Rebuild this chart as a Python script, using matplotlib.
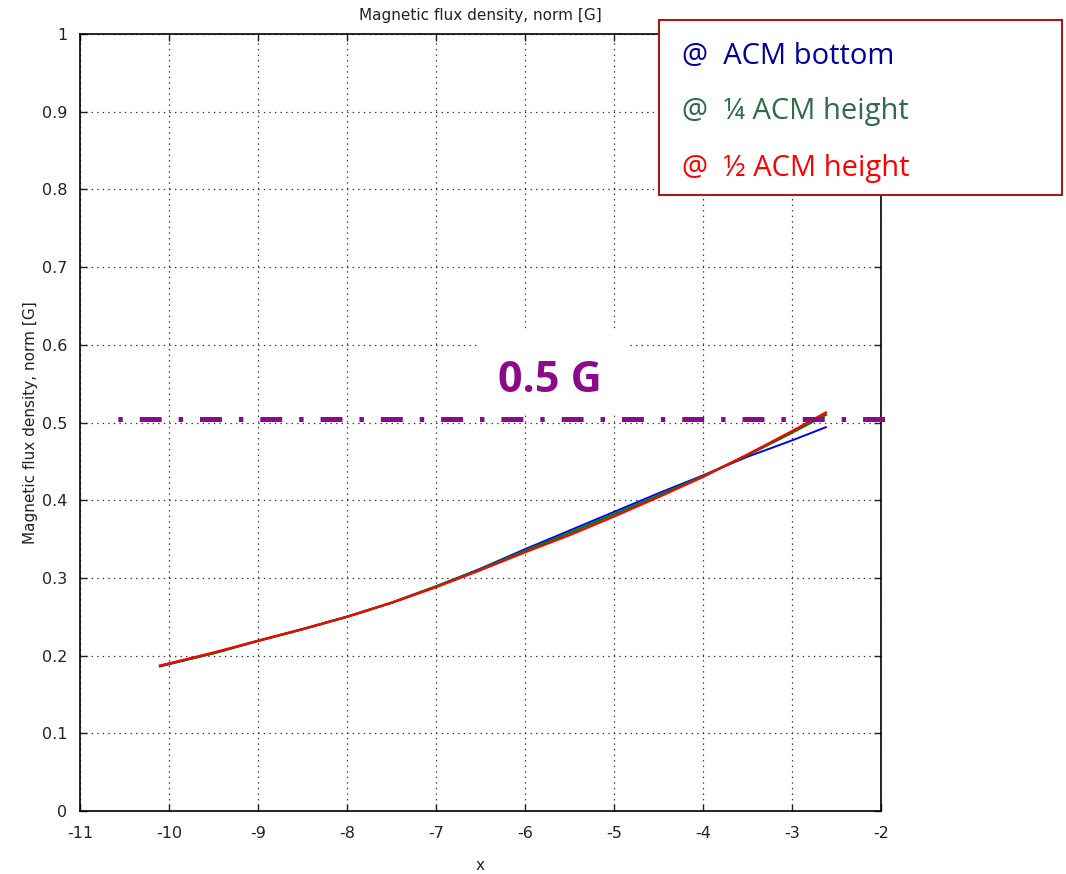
import matplotlib

matplotlib.use("Agg")
import matplotlib.pyplot as plt
import matplotlib.patheffects as pe
from matplotlib.patches import Rectangle
import numpy as np

# values
X = [-10.1, -9.5, -9.0, -8.5, -8.0, -7.5, -7.0, -6.5, -6.0, -5.5, -5.0, -4.5, -4.0, -3.5, -3.0, -2.62]
B_BOTTOM = [0.186, 0.203, 0.219, 0.234, 0.250, 0.268, 0.289, 0.312, 0.337, 0.361, 0.385, 0.409, 0.432, 0.456, 0.477, 0.494]
B_QUARTER = [0.187, 0.203, 0.219, 0.234, 0.250, 0.268, 0.289, 0.311, 0.335, 0.358, 0.382, 0.406, 0.431, 0.458, 0.487, 0.510]
B_HALF = [0.187, 0.204, 0.219, 0.234, 0.250, 0.268, 0.288, 0.310, 0.333, 0.355, 0.379, 0.404, 0.430, 0.459, 0.489, 0.513]
THRESHOLD = 0.504
THRESHOLD_LABEL = "0.5 G"
LEGEND_TEXTS = ["@  ACM bottom", "@  \u00bc ACM height", "@  \u00bd ACM height"]
LEGEND_COLORS = ["#00009E", "#2E6B48", "#FF0000"]
PURPLE = "#8B0A8B"

plt.rcParams["lines.scale_dashes"] = False
plt.rcParams["axes.unicode_minus"] = False

fig = plt.figure(figsize=(10.66, 8.74), dpi=100)
ax = fig.add_axes([0.075, 0.0721, 0.7515, 0.8889])

ax.plot(X, B_BOTTOM, color="#0000FF", lw=1.4, zorder=3)
ax.plot(X, B_QUARTER, color="#008000", lw=1.8, zorder=4)
ax.plot(X, B_HALF, color="#FF0000", lw=1.6, zorder=5)

ax.set_xlim(-11, -2)
ax.set_ylim(0, 1)
ax.set_xticks(np.arange(-11, -1, 1))
ax.set_yticks(np.arange(0, 1.01, 0.1))
ax.set_yticklabels(["0", "0.1", "0.2", "0.3", "0.4", "0.5", "0.6", "0.7", "0.8", "0.9", "1"])
ax.grid(True, linestyle=(0, (1, 3)), color="#333333", lw=0.9)
ax.tick_params(direction="in", length=5, width=1, top=True, right=True, labelsize=11.5, colors="#222222")
ax.tick_params(axis="x", pad=11)
ax.tick_params(axis="y", pad=9)
for s in ax.spines.values():
    s.set_linewidth(1.2)
ax.set_title("Magnetic flux density, norm [G]", fontsize=11, color="#222222", pad=10)
ax.set_xlabel("x", fontsize=11, color="#222222", labelpad=12)
ax.set_ylabel("Magnetic flux density, norm [G]", fontsize=11, color="#222222", labelpad=3)

# white text box hiding the grid behind the label
ax.add_patch(Rectangle((-6.54, 0.512), 1.69, 0.108, facecolor="white", edgecolor="none", zorder=2.5))
ax.text(-5.72, 0.554, THRESHOLD_LABEL, color=PURPLE, fontsize=31, fontweight="bold",
        family="Open Sans", ha="center", va="center", zorder=6)

ax.plot([-10.64, -1.865], [THRESHOLD, THRESHOLD], color=PURPLE, lw=3.6, clip_on=False,
        solid_capstyle="butt", dash_capstyle="butt",
        linestyle=(23.8, (15.8, 12.2, 3.2, 12.2)), zorder=7,
        path_effects=[pe.SimplePatchShadow(offset=(0, -3), shadow_rgbFace="#888888", alpha=0.5), pe.Normal()])

# legend box drawn as an overlay
fig.patches.append(Rectangle((0.618, 0.777), 0.378, 0.2, transform=fig.transFigure,
                             facecolor="white", edgecolor="#A01E16", lw=1.5, zorder=10))
for txt, col, yy in zip(LEGEND_TEXTS, LEGEND_COLORS, [0.935, 0.872, 0.807]):
    fig.text(0.640, yy, txt, color=col, fontsize=21, family="Open Sans", va="center", ha="left", zorder=11)

fig.savefig("out.png", dpi=100)
